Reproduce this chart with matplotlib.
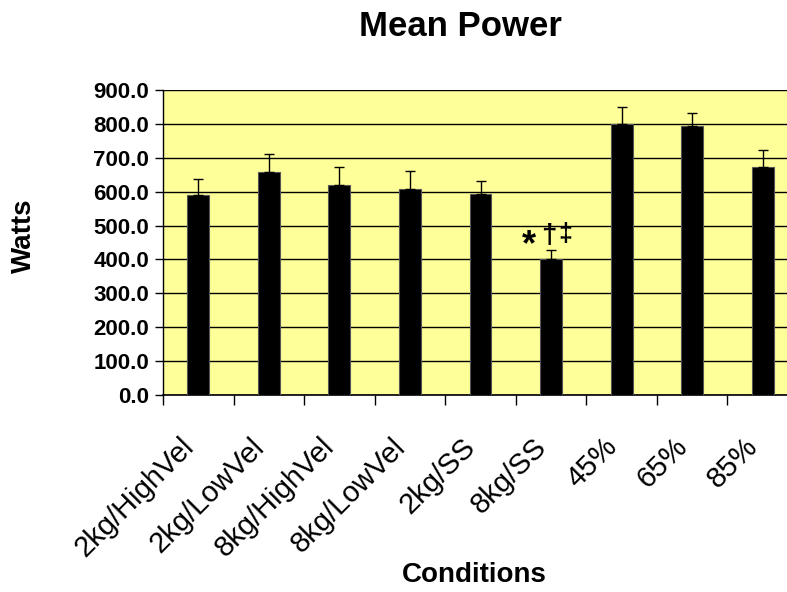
import numpy as np
import matplotlib
matplotlib.use('Agg')
from matplotlib import pyplot as plt
from matplotlib.transforms import ScaledTranslation

plt.rcParams['font.family'] = ['Liberation Sans', 'DejaVu Sans']

conditions = ['2kg/HighVel', '2kg/LowVel', '8kg/HighVel', '8kg/LowVel',
              '2kg/SS', '8kg/SS', '45%', '65%', '85%']
mean_power = [590, 658, 620, 609, 594, 401, 799, 794, 673]
sd_upper = [48, 53, 53, 53, 37, 26, 52, 37, 50]
yticks = [0, 100, 200, 300, 400, 500, 600, 700, 800, 900]

fig = plt.figure(figsize=(7.87, 5.92), dpi=100)
ax = fig.add_axes([0.2071, 0.3328, 0.8069, 0.5152])
ax.set_facecolor('#FFFF99')

x = np.arange(len(conditions))
ax.bar(x, mean_power, width=0.31, color='black', edgecolor='#555555',
       linewidth=0.8, zorder=3)
ax.errorbar(x, mean_power, yerr=[np.zeros(len(x)), sd_upper], fmt='none',
            ecolor='black', elinewidth=1, capsize=3.3, capthick=1, zorder=4)

ax.set_xlim(-0.5, len(conditions) - 0.5)
ax.set_ylim(0, 900)
ax.set_yticks(yticks)
ax.set_yticklabels(['%.1f' % v for v in yticks], fontsize=16, fontweight='bold')
ax.yaxis.grid(True, color='black', linewidth=1)
ax.set_axisbelow(True)

# category boundaries get the tick marks, centres get the labels
ax.set_xticks(x)
ax.set_xticklabels(conditions, fontsize=21, rotation=45, ha='right',
                   rotation_mode='anchor')
ax.set_xticks(np.arange(len(conditions)) - 0.5, minor=True)
ax.tick_params(axis='x', which='major', length=0, pad=27)
ax.tick_params(axis='x', which='minor', length=7, width=1, direction='out')
ax.tick_params(axis='y', length=6, width=1, direction='out', pad=4)
shift = ScaledTranslation(-19 / 100, 0, fig.dpi_scale_trans)
for lbl in ax.get_xticklabels():
    lbl.set_transform(lbl.get_transform() + shift)

for side in ['top', 'right']:
    ax.spines[side].set_visible(False)
ax.spines['left'].set_linewidth(1)
ax.spines['bottom'].set_linewidth(1.2)

# significance markers over 8kg/SS
ax.text(5 - 0.31, 442, '*', fontsize=26, fontweight='bold', ha='center', va='center')
ax.text(5 - 0.03, 468, '†', fontsize=20, fontweight='bold', ha='center', va='center')
ax.text(5 + 0.2, 474, '‡', fontsize=18, fontweight='bold', ha='center', va='center')

fig.text(460 / 787, 1 - 27 / 592, 'Mean Power', fontsize=25, fontweight='bold',
         ha='center', va='center')
fig.text(24 / 787, 1 - 236 / 592, 'Watts', fontsize=20, fontweight='bold',
         rotation=90, ha='center', va='center')
fig.text(474 / 787, 1 - 575 / 592, 'Conditions', fontsize=20, fontweight='bold',
         ha='center', va='center')

fig.savefig('out.png', dpi=100)
